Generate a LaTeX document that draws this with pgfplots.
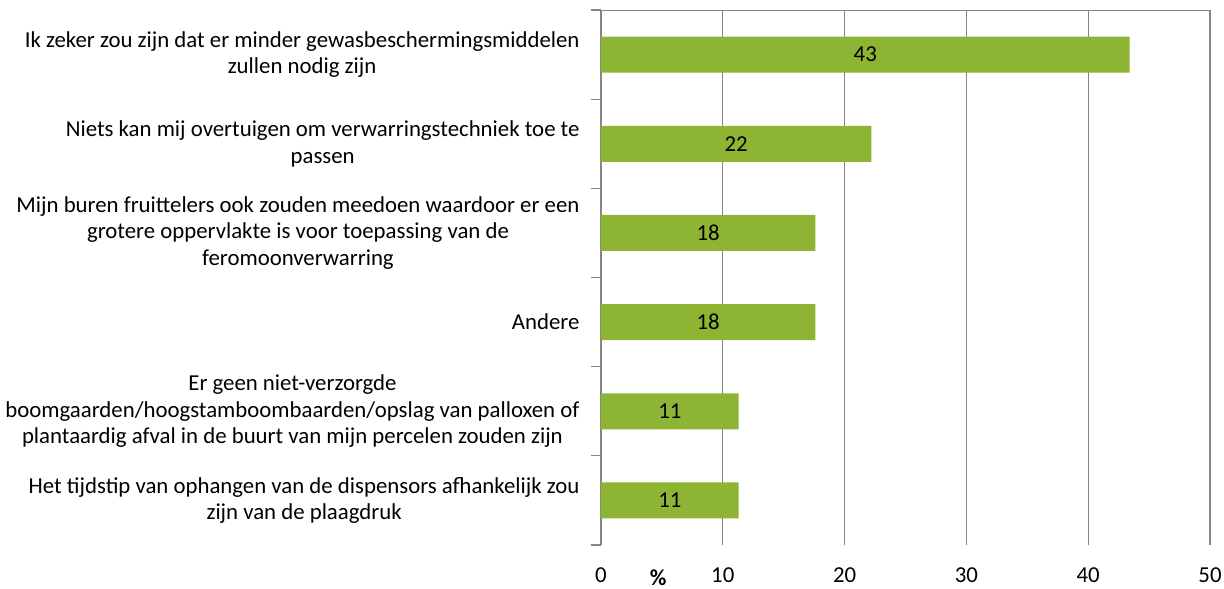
\documentclass[border=0pt]{standalone}
\usepackage{pgfplots}
\pgfplotsset{compat=1.18}
\usepackage{fontspec}
\setmainfont{Carlito}
\definecolor{bargreen}{RGB}{142,180,52}
\definecolor{gridgray}{RGB}{134,134,134}
\begin{document}
\begin{tikzpicture}[font=\fontsize{11.4bp}{13.2bp}\selectfont]
\useasboundingbox (-300.5bp,-22bp) rectangle (311.5bp,272.5bp);
\begin{axis}[
  scale only axis,
  width=304.5bp, height=267.5bp,
  xbar, bar width=18bp,
  xmin=0, xmax=50,
  ymin=-0.5, ymax=5.5,
  y dir=reverse,
  axis x line*=bottom,
  axis y line*=left,
  x axis line style={draw=none},
  y axis line style={draw=gridgray, line width=0.6pt},
  xtick={0,10,...,50},
  major x tick style={draw=none},
  xmajorgrids,
  major grid style={draw=gridgray, line width=0.6pt},
  xticklabel style={yshift=-8bp},
  /pgf/number format/assume math mode=true,
  xlabel={\textbf{\%}},
  xlabel style={at={(rel axis cs:0.094,0)}, anchor=center, yshift=-16.5bp},
  ytick={0,...,5},
  major y tick style={draw=none},
  yticklabel style={align=center, xshift=-3bp},
  yticklabels={
    {Ik zeker zou zijn dat er minder gewasbeschermingsmiddelen\\zullen nodig zijn},
    {Niets kan mij overtuigen om verwarringstechniek toe te\\passen},
    {Mijn buren fruittelers ook zouden meedoen waardoor er een\\grotere oppervlakte is voor toepassing van de\\feromoonverwarring},
    {Andere},
    {Er geen niet-verzorgde\\boomgaarden/hoogstamboombaarden/opslag van palloxen of\\plantaardig afval in de buurt van mijn percelen zouden zijn},
    {Het tijdstip van ophangen van de dispensors afhankelijk zou\\zijn van de plaagdruk}
  },
  extra y ticks={-0.5,0.5,...,5.5},
  extra y tick labels={},
  extra y tick style={
    major tick length=5bp, tick align=outside,
    major y tick style={draw=gridgray, line width=0.6pt},
    yticklabels={}
  },
  nodes near coords={\pgfmathprintnumber[fixed,precision=0]{\pgfplotspointmeta}},
  visualization depends on=x \as \rawx,
  every node near coord/.append style={anchor=center, black,
    shift={(axis direction cs:-\rawx/2,0)}},
]
\addplot[fill=bargreen, draw=none] coordinates {
  (43.4,0) (22.2,1) (17.6,2) (17.6,3) (11.3,4) (11.3,5)
};
\draw[gridgray, line width=0.6pt] (axis cs:0,-0.5) -- (axis cs:50,-0.5);
\end{axis}
\end{tikzpicture}
\end{document}
